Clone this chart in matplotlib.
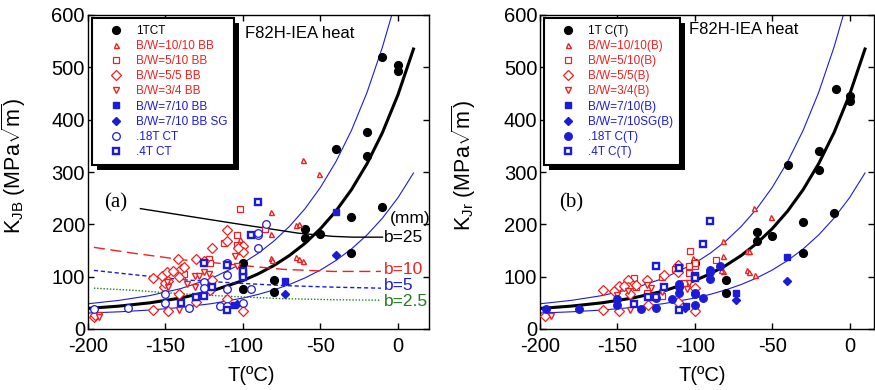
import matplotlib
matplotlib.use("Agg")
import matplotlib.pyplot as plt
from matplotlib.patches import Rectangle

plt.rcParams['font.family'] = ['Liberation Sans', 'DejaVu Sans']
plt.rcParams['mathtext.fontset'] = 'custom'
plt.rcParams['mathtext.rm'] = 'Liberation Sans'
plt.rcParams['mathtext.it'] = 'Liberation Sans:italic'
plt.rcParams['mathtext.bf'] = 'Liberation Sans:bold'
plt.rcParams['axes.unicode_minus'] = False

RED = '#f02020'
BLUE = '#1c1cd8'
GREEN = '#237a23'

curve_T = [-200, -180, -160, -140, -120, -100, -90, -80, -70, -60, -50, -40, -30, -20, -10, 0, 10]
curve_med = [39.3, 43.7, 50.0, 59.2, 72.7, 92.5, 105.5, 121.3, 140.4, 163.5, 191.5, 225.3, 266.2, 315.6, 375.3, 447.6, 535]
curve_up_T = [-200, -180, -160, -140, -120, -100, -90, -80, -70, -60, -50, -40, -30, -20, -10, -4]
curve_up = [48.2, 54.6, 63.8, 77.2, 97.0, 125.8, 144.9, 168.0, 195.9, 229.6, 270.4, 319.7, 379.4, 451.6, 538.8, 600]
curve_lo = [30.5, 32.8, 36.2, 41.2, 48.5, 59.1, 66.2, 74.7, 85.0, 97.5, 112.6, 130.9, 152.9, 179.6, 211.9, 250.9, 298.1]

# ---------------- b lines (panel a) ----------------
b_T = [-196, -171, -138, -106, -74, -42, -11]
b25_T = [-166, -106, -64, -42, -29, -10]
b25_K = [230, 202, 183, 177, 175.5, 175.5]
b10_K = [156, 145, 132, 123, 114, 110, 110]
b5_K = [112, 104, 94, 88, 83, 80, 78]
b25d_K = [78, 74, 67, 62, 58, 56, 55]
b_labels = ['b=25', 'b=10', 'b=5', 'b=2.5']
b_label_K = [175, 114, 83, 52]

# ---------------- panel (a) data ----------------
a_1tct_T = [-10, 0, 0, -20, -20, -40, -10, -30, -60, -60, -50, -30, -80, -80, -100, -100]
a_1tct_K = [519, 504, 493, 377, 331, 343, 234, 214, 191, 173, 182, 146, 94, 70, 126, 76]
a_b1010_T = [-61, -51, -82, -82, -82, -81, -66, -64, -66, -64, -61, -102]
a_b1010_K = [323, 296, 224, 181, 135, 132, 198, 200, 137, 134, 129, 172]
a_b510_T = [-102, -86, -104, -103, -112, -139, -140, -138, -122, -121, -104, -101, -121]
a_b510_K = [230, 192, 179, 159, 164, 101, 110, 106, 134, 126, 160, 150, 74]
a_b55_T = [-196, -195, -158, -152, -151, -149, -148, -142, -140, -141, -141, -158, -148, -130, -130,
           -120, -120, -110, -110, -110, -100, -100, -100, -121, -145, -138, -125, -103, -150]
a_b55_K = [23, 27, 97, 102, 80, 108, 92, 133, 115, 100, 66, 37, 35, 134, 51,
           154, 94, 190, 169, 57, 159, 147, 34, 75, 110, 118, 130, 155, 88]
a_b34_T = [-193, -193, -148, -141, -131, -128, -131, -122, -104, -105, -149, -136, -125]
a_b34_K = [27, 22, 80, 37, 102, 102, 81, 105, 121, 139, 89, 86, 108]
a_b710_T = [-40, -73, -106]
a_b710_K = [224, 91, 45]
a_b710sg_T = [-40, -73, -104]
a_b710sg_K = [141, 67, 48]
a_18t_T = [-196, -174, -150, -150, -135, -125, -125, -110, -110, -110, -115, -110, -100, -95, -90, -90, -85, -90]
a_18t_K = [38, 40, 66, 50, 40, 90, 78, 127, 103, 76, 43, 43, 50, 76, 180, 184, 201, 155]
a_4t_T = [-90, -140, -125, -120, -125, -130, -110, -110, -100, -100, -100, -95]
a_4t_K = [242, 50, 126, 80, 64, 61, 122, 37, 106, 100, 110, 180]

# ---------------- panel (b) data ----------------
b_1tct_T = [-9, 0, 0, -40, -20, -20, -60, -60, -50, -30, -10, -30, -80, -80, -100]
b_1tct_K = [458, 445, 436, 314, 340, 304, 186, 169, 178, 205, 221, 146, 94, 69, 127]
b_b1010_T = [-62, -51, -82, -82, -82, -66, -65, -66, -65, -61, -101, -83]
b_b1010_K = [232, 214, 169, 140, 110, 150, 150, 112, 108, 103, 135, 112]
b_b510_T = [-103, -104, -86, -104, -100, -113, -121, -121, -131, -139, -138, -100, -107]
b_b510_K = [150, 120, 132, 107, 120, 114, 64, 100, 69, 97, 81, 127, 88]
b_b55_T = [-197, -159, -159, -152, -149, -149, -143, -143, -142, -131, -130, -120, -111, -111, -111, -100, -100, -146, -138]
b_b55_K = [24, 75, 36, 72, 83, 34, 93, 80, 66, 94, 46, 103, 123, 108, 51, 78, 34, 82, 84]
b_b34_T = [-193, -142, -131, -128, -121, -105, -104, -150, -143]
b_b34_K = [24, 37, 85, 79, 71, 77, 87, 65, 73]
b_b710_T = [-40.5, -73.5, -105.5]
b_b710_K = [137, 69, 43]
b_b710sg_T = [-40.5, -73.5, -106]
b_b710sg_K = [91, 56, 40]
b_18t_T = [-196, -175, -150, -150, -135, -125, -125, -115, -110, -110, -100, -100, -95, -90, -90, -84, -110, -90, -100]
b_18t_K = [38, 39, 57, 46, 38, 40, 60, 58, 81, 69, 69, 45, 59, 113, 96, 121, 86, 108, 66]
b_4t_T = [-90, -95, -125, -110, -120, -130, -125, -139, -110, -100, -100]
b_4t_K = [207, 162, 120, 116, 80, 62, 62, 48, 36, 102, 97]

labels_a = ['1TCT', 'B/W=10/10 BB', 'B/W=5/10 BB', 'B/W=5/5 BB', 'B/W=3/4 BB',
            'B/W=7/10 BB', 'B/W=7/10 BB SG', '.18T CT', '.4T CT']
labels_b = ['1T C(T)', 'B/W=10/10(B)', 'B/W=5/10(B)', 'B/W=5/5(B)', 'B/W=3/4(B)',
            'B/W=7/10(B)', 'B/W=7/10SG(B)', '.18T C(T)', '.4T C(T)']
label_colors = ['black', RED, RED, RED, RED, BLUE, BLUE, BLUE, BLUE]

fig = plt.figure(figsize=(8.75, 3.9), dpi=100)
ax1 = fig.add_axes([87.7 / 875, 61 / 390, 341.3 / 875, 314 / 390])
ax2 = fig.add_axes([540 / 875, 61 / 390, 334.3 / 875, 314 / 390])


def draw_curves(ax):
    ax.plot(curve_T, curve_med, color='black', lw=2.2, zorder=2)
    ax.plot(curve_up_T, curve_up, color=BLUE, lw=0.8, zorder=2)
    ax.plot(curve_T, curve_lo, color=BLUE, lw=0.8, zorder=2)


def draw_points(ax, series, labels, filled18):
    specs = [
        dict(marker='o', ms=5.6, mfc='black', mec='black'),
        dict(marker='^', ms=3.6, mfc='white', mec=RED, mew=1.0),
        dict(marker='s', ms=4.2, mfc='white', mec=RED, mew=0.9),
        dict(marker='D', ms=4.6, mfc='white', mec=RED, mew=0.9),
        dict(marker='v', ms=3.8, mfc='white', mec=RED, mew=1.0),
        dict(marker='s', ms=4.3, mfc=BLUE, mec=BLUE),
        dict(marker='D', ms=4.5, mfc=BLUE, mec=BLUE),
        dict(marker='o', ms=5.5, mfc=(BLUE if filled18 else 'white'), mec=BLUE, mew=0.9),
        dict(marker='s', ms=4.3, mfc='white', mec=BLUE, mew=1.7),
    ]
    handles = []
    for (T, K), spec, lab in zip(series, specs, labels):
        h, = ax.plot(T, K, ls='none', label=lab, zorder=3, **spec)
        handles.append(h)
    return handles


def style_axes(ax, xmax, ylabel):
    ax.set_xlim(-200, xmax)
    ax.set_ylim(0, 600)
    ax.set_xticks([-200, -150, -100, -50, 0])
    ax.set_yticks([0, 100, 200, 300, 400, 500, 600])
    ax.tick_params(direction='in', top=True, right=True, length=4, width=1,
                   labelsize=14.5)
    ax.tick_params(axis='x', pad=5.5)
    ax.tick_params(axis='y', pad=2)
    for s in ax.spines.values():
        s.set_linewidth(1.0)
    ax.set_ylabel(ylabel, fontsize=15.5)
    ax.set_xlabel('T(ºC)', fontsize=14.5)


def make_legend(ax, handles):
    leg = ax.legend(handles=handles, loc='upper left', bbox_to_anchor=(0.012, 0.99),
                    fontsize=8.5, frameon=True, fancybox=False, framealpha=1.0,
                    facecolor='white',
                    handlelength=3.0, handletextpad=0.2, labelspacing=0.27,
                    borderpad=0.55, borderaxespad=0.0)
    frame = leg.get_frame()
    frame.set_edgecolor('black')
    frame.set_linewidth(1.5)
    for t, c in zip(leg.get_texts(), label_colors):
        t.set_color(c)
    leg.set_zorder(10)
    return leg


# Panel (a)
draw_curves(ax1)
ax1.plot(b25_T, b25_K, color='black', lw=1.0, zorder=2)
ax1.plot(b_T, b10_K, color=RED, lw=1.0, dashes=(8, 4), zorder=2)
ax1.plot(b_T, b5_K, color=BLUE, lw=1.0, dashes=(3, 2), zorder=2)
ax1.plot(b_T, b25d_K, color=GREEN, lw=1.0, dashes=(1, 1.3), zorder=2)
for lab, k, c in zip(b_labels, b_label_K, ['black', RED, BLUE, GREEN]):
    ax1.text(-9, k, lab, color=c, fontsize=12.5, va='center', ha='left')
ax1.text(-5, 211, '(mm)', color='black', fontsize=12.5, va='center', ha='left')

series_a = [(a_1tct_T, a_1tct_K), (a_b1010_T, a_b1010_K), (a_b510_T, a_b510_K),
            (a_b55_T, a_b55_K), (a_b34_T, a_b34_K), (a_b710_T, a_b710_K),
            (a_b710sg_T, a_b710sg_K), (a_18t_T, a_18t_K), (a_4t_T, a_4t_K)]
h1 = draw_points(ax1, series_a, labels_a, filled18=False)
style_axes(ax1, 20, r'K$_{\mathregular{JB}}$ (MPa$\sqrt{\mathregular{m}}$)')
ax1.yaxis.set_label_coords(-0.175, 0.52)
ax1.xaxis.set_label_coords(0.48, -0.118)
leg1 = make_legend(ax1, h1)
ax1.text(-182, 241, '(a)', family='Liberation Serif', fontsize=15, ha='center', va='center')
ax1.text(-98.5, 565, 'F82H-IEA heat', fontsize=12, ha='left', va='center')

# Panel (b)
draw_curves(ax2)
series_b = [(b_1tct_T, b_1tct_K), (b_b1010_T, b_b1010_K), (b_b510_T, b_b510_K),
            (b_b55_T, b_b55_K), (b_b34_T, b_b34_K), (b_b710_T, b_b710_K),
            (b_b710sg_T, b_b710sg_K), (b_18t_T, b_18t_K), (b_4t_T, b_4t_K)]
h2 = draw_points(ax2, series_b, labels_b, filled18=True)
style_axes(ax2, 16, r'K$_{\mathregular{Jr}}$ (MPa$\sqrt{\mathregular{m}}$)')
ax2.yaxis.set_label_coords(-0.185, 0.52)
ax2.xaxis.set_label_coords(0.484, -0.118)
leg2 = make_legend(ax2, h2)
ax2.text(-180, 241, '(b)', family='Liberation Serif', fontsize=15, ha='center', va='center')
ax2.text(-104, 572, 'F82H-IEA heat', fontsize=12, ha='left', va='center')

# solid black drop shadows placed behind each legend box (as a thick L-shaped band)
fig.canvas.draw()
renderer = fig.canvas.get_renderer()
for ax, leg in ((ax1, leg1), (ax2, leg2)):
    bb = leg.get_frame().get_window_extent(renderer)
    bba = bb.transformed(ax.transAxes.inverted())
    axbb = ax.get_window_extent(renderer)
    dx = 5.0 / axbb.width
    dy = 5.0 / axbb.height
    # right band
    ax.add_patch(Rectangle((bba.x1, bba.y0 - dy), dx, bba.height,
                           transform=ax.transAxes, facecolor='black',
                           edgecolor='none', zorder=11, clip_on=False))
    # bottom band
    ax.add_patch(Rectangle((bba.x0 + dx, bba.y0 - dy), bba.width, dy,
                           transform=ax.transAxes, facecolor='black',
                           edgecolor='none', zorder=11, clip_on=False))

fig.savefig('out.png', dpi=100)
